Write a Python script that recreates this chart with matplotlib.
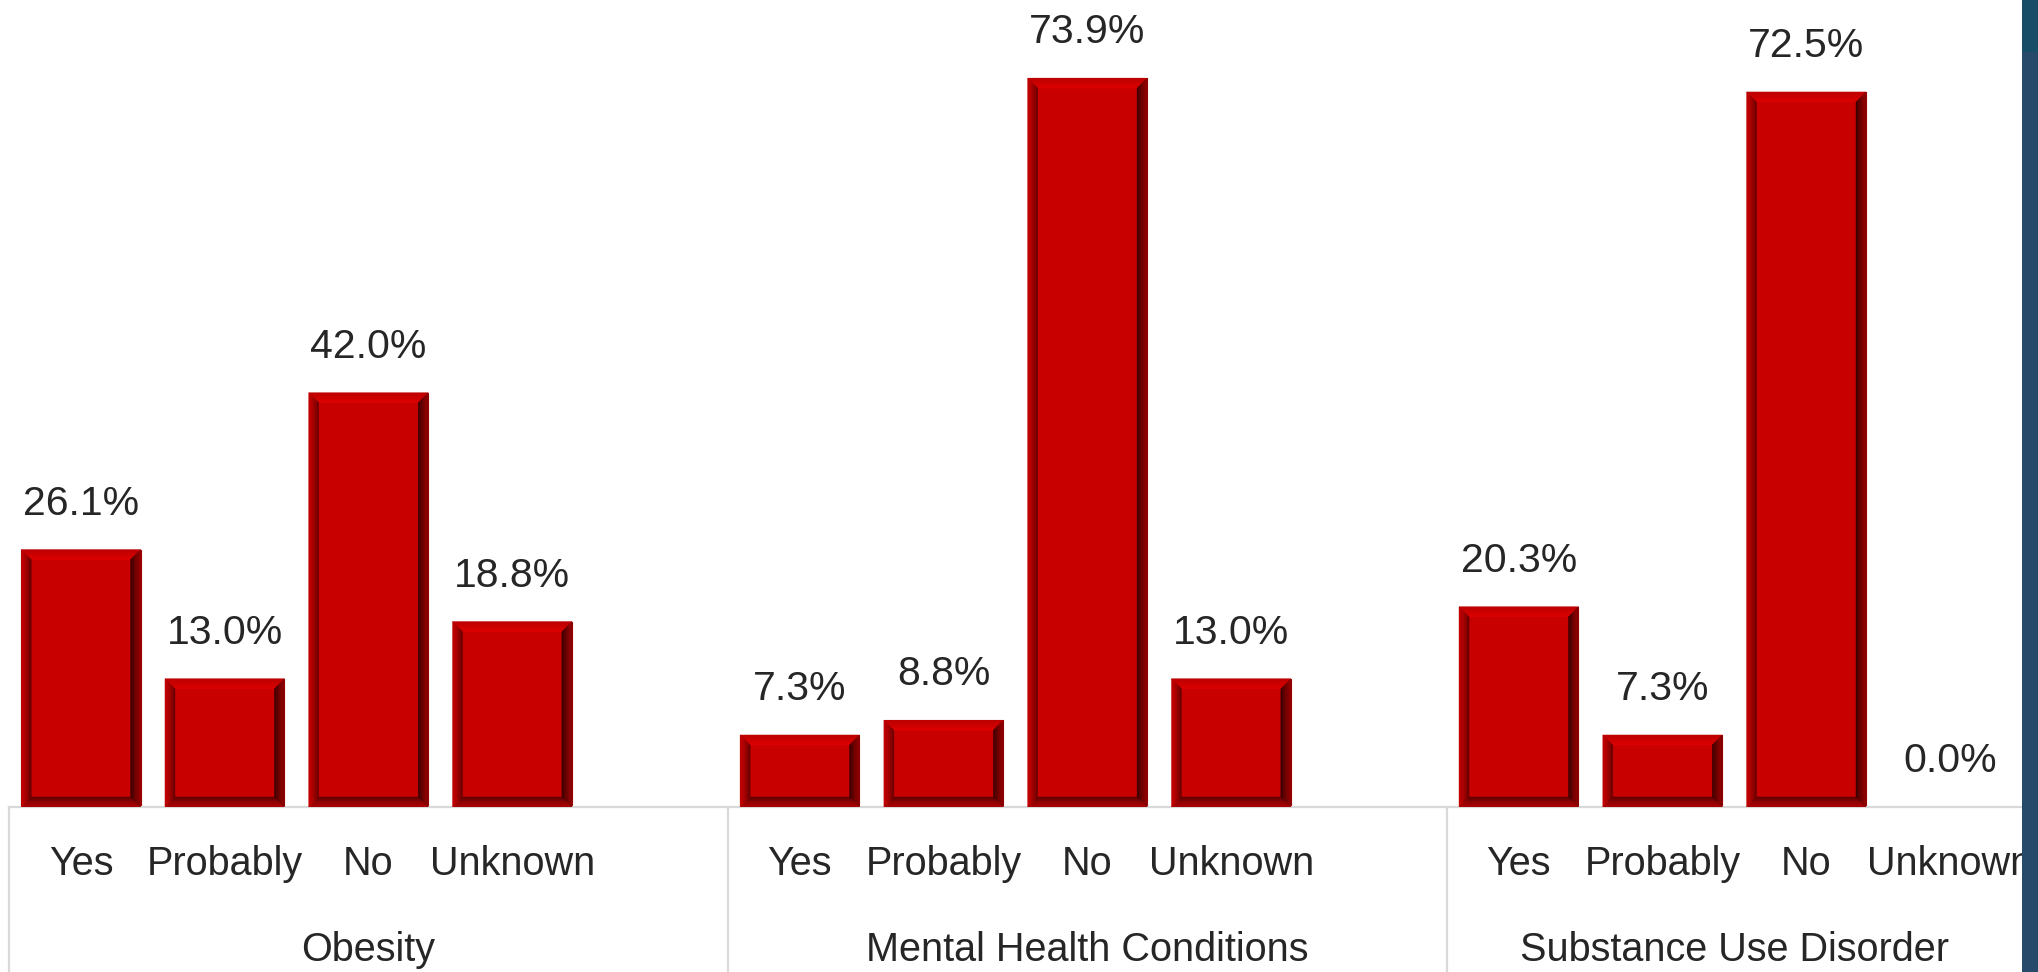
import matplotlib

matplotlib.use("Agg")
import matplotlib.pyplot as plt
import numpy as np
from matplotlib.colors import to_rgb
from matplotlib.patches import Polygon, Rectangle

plt.rcParams["font.family"] = ["Liberation Sans", "DejaVu Sans"]

groups = ["Obesity", "Mental Health Conditions", "Substance Use Disorder"]
answers = ["Yes", "Probably", "No", "Unknown"]
obesity = [26.1, 13.0, 42.0, 18.8]
mental_health = [7.3, 8.8, 73.9, 13.0]
substance_use = [20.3, 7.3, 72.5, 0.0]

BAR_RED = "#c80000"
TEXT = "#262626"
GRID = "#d9d9d9"


def mix(c1, c2, t):
    a, b = np.array(to_rgb(c1)), np.array(to_rgb(c2))
    return tuple(a + (b - a) * t)


def bevel(ax, patch, depth=10, steps=8):
    """Paint a raised bevel on a bar, working in display pixels."""
    x0, y0 = ax.transData.transform((patch.get_x(), patch.get_y()))
    x1, y1 = ax.transData.transform((patch.get_x() + patch.get_width(),
                                     patch.get_y() + patch.get_height()))
    d = min(depth, (x1 - x0) / 2, (y1 - y0) / 2)
    if d <= 0.5:
        return
    # outer -> inner colours for each side
    sides = {
        "top": ("#c00000", "#e00000"),
        "left": ("#c20000", "#620000"),
        "right": ("#8c0000", "#340000"),
        "bottom": ("#a80000", "#580000"),
    }
    for i in range(steps):
        a = d * i / steps
        b = d * (i + 1) / steps
        t = ((i + 0.5) / steps) ** 1.6
        quads = {
            "top": [(x0 + a, y1 - a), (x1 - a, y1 - a), (x1 - b, y1 - b), (x0 + b, y1 - b)],
            "bottom": [(x0 + a, y0 + a), (x1 - a, y0 + a), (x1 - b, y0 + b), (x0 + b, y0 + b)],
            "left": [(x0 + a, y0 + a), (x0 + a, y1 - a), (x0 + b, y1 - b), (x0 + b, y0 + b)],
            "right": [(x1 - a, y0 + a), (x1 - a, y1 - a), (x1 - b, y1 - b), (x1 - b, y0 + b)],
        }
        for side, pts in quads.items():
            c = mix(*sides[side], t)
            ax.add_patch(Polygon(pts, closed=True, transform=None, facecolor=c,
                                 edgecolor=c, linewidth=0.3, zorder=3))


W, H = 2038, 972
fig = plt.figure(figsize=(W / 100, H / 100), dpi=100)
fig.patch.set_facecolor("white")

# axes box in pixels: baseline at y=807, axis from x=9 to x=2022
left, right, base, top = 9, 2022, 807, 18
ax = fig.add_axes([left / W, (H - base) / H, (right - left) / W, (base - top) / H])

# each group takes five slots (four answers + a spacer), last group has no spacer
series = [obesity, mental_health, substance_use]
positions, values, labels = [], [], []
for g, vals in enumerate(series):
    for k, v in enumerate(vals):
        positions.append(g * 5 + k)
        values.append(v)
        labels.append(answers[k])
n_slots = 14

bars = ax.bar(positions, values, width=0.83, color=BAR_RED, edgecolor="#9a0000",
              linewidth=0.8, zorder=2)

ax.set_xlim(-0.5, n_slots - 0.5)
ax.set_ylim(0, 80)
ax.set_xticks([])
ax.set_yticks([])
for s in ["top", "left", "right"]:
    ax.spines[s].set_visible(False)
ax.spines["bottom"].set_color(GRID)
ax.spines["bottom"].set_linewidth(1.6)

fig.canvas.draw()
for p in bars:
    bevel(ax, p)

for x, v in zip(positions, values):
    ax.annotate(f"{v:.1f}%", (x, v), xytext=(0, 25), textcoords="offset points",
                ha="center", va="baseline", fontsize=29.5, color=TEXT)

# category labels, two rows under the axis
px = 1.0 / (base - top)
tr = ax.get_xaxis_transform()
for x, lab in zip(positions, labels):
    ax.text(x, -(864 - base) * px, lab, transform=tr, ha="center", va="center",
            fontsize=28.5, color=TEXT, clip_on=False)

group_spans = [(-0.5, 4.5), (4.5, 9.5), (9.5, 13.5)]
for (a, b), name in zip(group_spans, groups):
    ax.text((a + b) / 2, -(950 - base) * px, name, transform=tr, ha="center",
            va="center", fontsize=28.5, color=TEXT, clip_on=False)

for xs in [-0.5, 4.5, 9.5]:
    ax.plot([xs, xs], [0, -(H - base) * px], transform=tr, color=GRID,
            linewidth=1.6, clip_on=False, zorder=1)

# slide accent strip along the right edge
fig.patches.append(Rectangle((2022 / W, 0), 16 / W, 1, transform=fig.transFigure,
                             facecolor="#274a6a", edgecolor="none", zorder=10))
fig.patches.append(Rectangle((2022 / W, 1 - 52 / H), 16 / W, 52 / H,
                             transform=fig.transFigure, facecolor="#174d66",
                             edgecolor="none", zorder=11))

fig.savefig("out.png", dpi=100)
